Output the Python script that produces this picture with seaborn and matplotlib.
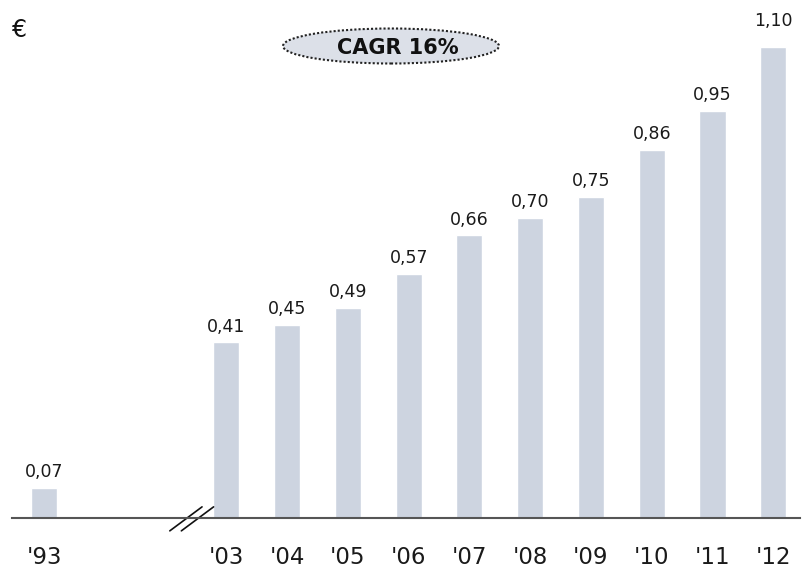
import pandas as pd
import matplotlib
matplotlib.use("Agg")
import matplotlib.pyplot as plt
from matplotlib.patches import Ellipse
import seaborn as sns

sns.set_theme(style="white")
plt.rcParams['font.family'] = ['DejaVu Sans']

# data
years = ["'93", "'03", "'04", "'05", "'06", "'07", "'08", "'09", "'10", "'11", "'12"]
positions = [0, 3, 4, 5, 6, 7, 8, 9, 10, 11, 12]
values = [0.07, 0.41, 0.45, 0.49, 0.57, 0.66, 0.70, 0.75, 0.86, 0.95, 1.10]
labels = ["0,07", "0,41", "0,45", "0,49", "0,57", "0,66", "0,70", "0,75", "0,86", "0,95", "1,10"]

df = pd.DataFrame({"pos": positions, "value": values})

fig = plt.figure(figsize=(8.02, 5.70), dpi=100)
ax = fig.add_axes([12 / 802, 52 / 570, 788 / 802, 518 / 570])

sns.barplot(data=df, x="pos", y="value", native_scale=True, width=0.43,
            color="#cdd4e0", saturation=1, errorbar=None, ax=ax)

ax.set_xlim(-0.527, 12.44)
ax.set_ylim(0, 1.21)

# value labels
for i, (bar, lab) in enumerate(zip(ax.patches, labels)):
    pad = 12 if i == len(labels) - 1 else 5
    ax.annotate(lab, (bar.get_x() + bar.get_width() / 2, bar.get_height()),
                xytext=(0, pad), textcoords="offset points",
                ha="center", va="bottom", fontsize=12.5, color="#1a1a1a")

ax.set_xticks(positions, years)
ax.set_yticks([])
ax.set_xlabel("")
ax.set_ylabel("")
ax.tick_params(axis="x", length=0, pad=20, labelsize=16.5, labelcolor="#1a1a1a")
for s in ["top", "left", "right"]:
    ax.spines[s].set_visible(False)
ax.spines["bottom"].set_color("#555555")
ax.spines["bottom"].set_linewidth(1.5)

# axis break marks
for dx in [0, 0.19]:
    ax.plot([2.07 + dx, 2.60 + dx], [-0.030, 0.026], color="#111111", lw=1.2, clip_on=False)

# euro sign
fig.text(12 / 802, 1 - 30 / 570, "€", fontsize=17, va="center", ha="left", color="#111111")

# CAGR bubble
ell = Ellipse((391 / 802, 1 - 46 / 570), 216 / 802, 35 / 570, transform=fig.transFigure,
              facecolor="#dce0e8", edgecolor="#222222", linestyle=(0, (1, 1)), lw=1.5)
fig.patches.append(ell)
fig.text(398 / 802, 1 - 48 / 570, "CAGR 16%", fontsize=15, fontweight="bold",
         ha="center", va="center", color="#111111")

fig.savefig("out.png", dpi=100)
